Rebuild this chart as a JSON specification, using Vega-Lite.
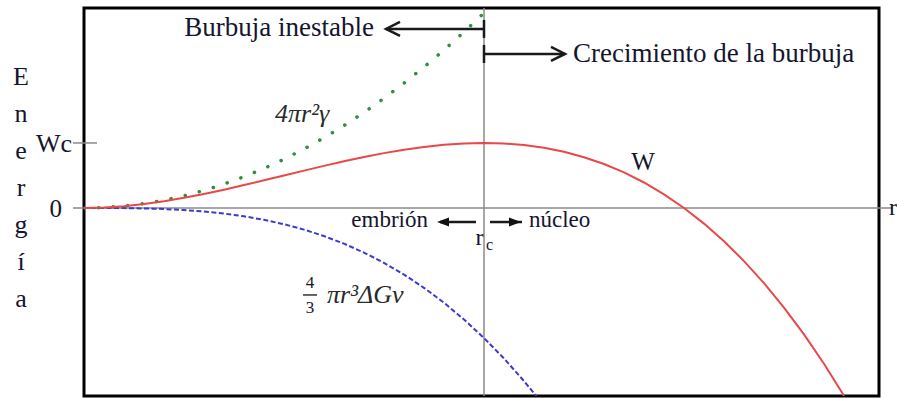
{
  "$schema": "https://vega.github.io/schema/vega-lite/v6.json",
  "width": 795,
  "height": 388,
  "autosize": "none",
  "padding": {"left": 84, "top": 8, "right": 18, "bottom": 3},
  "background": "white",
  "view": {"stroke": "black", "strokeWidth": 3},
  "datasets": {
    "curvas": [
      {"curva": "superficie", "r": 0, "E": 0},
      {"curva": "superficie", "r": 0.05, "E": 0.00375},
      {"curva": "superficie", "r": 0.1, "E": 0.015},
      {"curva": "superficie", "r": 0.15, "E": 0.03375},
      {"curva": "superficie", "r": 0.2, "E": 0.06},
      {"curva": "superficie", "r": 0.25, "E": 0.09375},
      {"curva": "superficie", "r": 0.3, "E": 0.135},
      {"curva": "superficie", "r": 0.35, "E": 0.18375},
      {"curva": "superficie", "r": 0.4, "E": 0.24},
      {"curva": "superficie", "r": 0.45, "E": 0.30375},
      {"curva": "superficie", "r": 0.5, "E": 0.375},
      {"curva": "superficie", "r": 0.55, "E": 0.45375},
      {"curva": "superficie", "r": 0.6, "E": 0.54},
      {"curva": "superficie", "r": 0.65, "E": 0.63375},
      {"curva": "superficie", "r": 0.7, "E": 0.735},
      {"curva": "superficie", "r": 0.75, "E": 0.84375},
      {"curva": "superficie", "r": 0.8, "E": 0.96},
      {"curva": "superficie", "r": 0.85, "E": 1.08375},
      {"curva": "superficie", "r": 0.9, "E": 1.215},
      {"curva": "superficie", "r": 0.95, "E": 1.35375},
      {"curva": "superficie", "r": 1.0, "E": 1.5},
      {"curva": "superficie", "r": 1.013, "E": 1.539},
      {"curva": "volumen", "r": 0, "E": 0},
      {"curva": "volumen", "r": 0.05, "E": -0.000125},
      {"curva": "volumen", "r": 0.1, "E": -0.001},
      {"curva": "volumen", "r": 0.15, "E": -0.003375},
      {"curva": "volumen", "r": 0.2, "E": -0.008},
      {"curva": "volumen", "r": 0.25, "E": -0.015625},
      {"curva": "volumen", "r": 0.3, "E": -0.027},
      {"curva": "volumen", "r": 0.35, "E": -0.042875},
      {"curva": "volumen", "r": 0.4, "E": -0.064},
      {"curva": "volumen", "r": 0.45, "E": -0.091125},
      {"curva": "volumen", "r": 0.5, "E": -0.125},
      {"curva": "volumen", "r": 0.55, "E": -0.166375},
      {"curva": "volumen", "r": 0.6, "E": -0.216},
      {"curva": "volumen", "r": 0.65, "E": -0.274625},
      {"curva": "volumen", "r": 0.7, "E": -0.343},
      {"curva": "volumen", "r": 0.75, "E": -0.421875},
      {"curva": "volumen", "r": 0.8, "E": -0.512},
      {"curva": "volumen", "r": 0.85, "E": -0.614125},
      {"curva": "volumen", "r": 0.9, "E": -0.729},
      {"curva": "volumen", "r": 0.95, "E": -0.857375},
      {"curva": "volumen", "r": 1.0, "E": -1.0},
      {"curva": "volumen", "r": 1.05, "E": -1.157625},
      {"curva": "volumen", "r": 1.1, "E": -1.331},
      {"curva": "volumen", "r": 1.131, "E": -1.447},
      {"curva": "W", "r": 0, "E": 0},
      {"curva": "W", "r": 0.05, "E": 0.003625},
      {"curva": "W", "r": 0.1, "E": 0.014},
      {"curva": "W", "r": 0.15, "E": 0.030375},
      {"curva": "W", "r": 0.2, "E": 0.052},
      {"curva": "W", "r": 0.25, "E": 0.078125},
      {"curva": "W", "r": 0.3, "E": 0.108},
      {"curva": "W", "r": 0.35, "E": 0.140875},
      {"curva": "W", "r": 0.4, "E": 0.176},
      {"curva": "W", "r": 0.45, "E": 0.212625},
      {"curva": "W", "r": 0.5, "E": 0.25},
      {"curva": "W", "r": 0.55, "E": 0.287375},
      {"curva": "W", "r": 0.6, "E": 0.324},
      {"curva": "W", "r": 0.65, "E": 0.359125},
      {"curva": "W", "r": 0.7, "E": 0.392},
      {"curva": "W", "r": 0.75, "E": 0.421875},
      {"curva": "W", "r": 0.8, "E": 0.448},
      {"curva": "W", "r": 0.85, "E": 0.469625},
      {"curva": "W", "r": 0.9, "E": 0.486},
      {"curva": "W", "r": 0.95, "E": 0.496375},
      {"curva": "W", "r": 1.0, "E": 0.5},
      {"curva": "W", "r": 1.05, "E": 0.496125},
      {"curva": "W", "r": 1.1, "E": 0.484},
      {"curva": "W", "r": 1.15, "E": 0.462875},
      {"curva": "W", "r": 1.2, "E": 0.432},
      {"curva": "W", "r": 1.25, "E": 0.390625},
      {"curva": "W", "r": 1.3, "E": 0.338},
      {"curva": "W", "r": 1.35, "E": 0.273375},
      {"curva": "W", "r": 1.4, "E": 0.196},
      {"curva": "W", "r": 1.45, "E": 0.105125},
      {"curva": "W", "r": 1.5, "E": 0},
      {"curva": "W", "r": 1.55, "E": -0.120125},
      {"curva": "W", "r": 1.6, "E": -0.256},
      {"curva": "W", "r": 1.65, "E": -0.408375},
      {"curva": "W", "r": 1.7, "E": -0.578},
      {"curva": "W", "r": 1.75, "E": -0.765625},
      {"curva": "W", "r": 1.8, "E": -0.972},
      {"curva": "W", "r": 1.85, "E": -1.197875},
      {"curva": "W", "r": 1.9, "E": -1.444}
    ],
    "guias": [
      {"r": -0.0275, "r2": 2.0225, "E": 0, "E2": 0},
      {"r": -0.0275, "r2": 0.0325, "E": 0.5, "E2": 0.5},
      {"r": 1, "r2": 1, "E": -1.446, "E2": 1.538}
    ],
    "flechas": [
      {"r": 0.755, "r2": 1.0, "E": 1.377, "E2": 1.377},
      {"r": 1.0, "r2": 1.0, "E": 1.446, "E2": 1.308},
      {"r": 1.0, "r2": 1.2025, "E": 1.185, "E2": 1.185},
      {"r": 1.0, "r2": 1.0, "E": 1.254, "E2": 1.115},
      {"r": 0.89, "r2": 0.98, "E": -0.108, "E2": -0.108},
      {"r": 1.015, "r2": 1.095, "E": -0.108, "E2": -0.108}
    ],
    "fraccion": [
      {"r": 0.5475, "r2": 0.5825, "E": -0.669, "E2": -0.669}
    ],
    "puntas": [
      {"estilo": "abierta", "r": 0.7725, "E": 1.377, "forma": "M1,-1L-1,0L1,1"},
      {"estilo": "abierta", "r": 1.185, "E": 1.185, "forma": "M-1,-1L1,0L-1,1"},
      {"estilo": "llena", "r": 0.8975, "E": -0.108, "forma": "M-1,0L1,-0.75L1,0.75Z"},
      {"estilo": "llena", "r": 1.0775, "E": -0.108, "forma": "M1,0L-1,-0.75L-1,0.75Z"}
    ],
    "textos": [
      {"alin": "right", "r": 0.725, "E": 1.323, "t": "Burbuja inestable", "tam": 27},
      {"alin": "left", "r": 1.2225, "E": 1.123, "t": "Crecimiento de la burbuja", "tam": 27},
      {"alin": "right", "r": -0.03, "E": 0.4308, "t": "Wc", "tam": 26},
      {"alin": "right", "r": -0.055, "E": -0.0692, "t": "0", "tam": 25},
      {"alin": "right", "r": 0.86, "E": -0.146, "t": "embrión", "tam": 23},
      {"alin": "left", "r": 1.1125, "E": -0.146, "t": "núcleo", "tam": 23},
      {"alin": "left", "r": 2.0125, "E": -0.0538, "t": "r", "tam": 24},
      {"alin": "center", "r": 1.3975, "E": 0.2923, "t": "W", "tam": 25},
      {"alin": "center", "r": 0.989, "E": -0.2846, "t": "r", "tam": 24},
      {"alin": "center", "r": 1.014, "E": -0.323, "t": "c", "tam": 16},
      {"alin": "center", "r": 0.565, "E": -0.615, "t": "4", "tam": 17},
      {"alin": "center", "r": 0.565, "E": -0.8077, "t": "3", "tam": 17},
      {"alin": "center", "r": -0.1575, "E": 0.946, "t": "E", "tam": 26},
      {"alin": "center", "r": -0.1575, "E": 0.6615, "t": "n", "tam": 26},
      {"alin": "center", "r": -0.1575, "E": 0.377, "t": "e", "tam": 26},
      {"alin": "center", "r": -0.1575, "E": 0.0923, "t": "r", "tam": 26},
      {"alin": "center", "r": -0.1575, "E": -0.1923, "t": "g", "tam": 26},
      {"alin": "center", "r": -0.1575, "E": -0.477, "t": "í", "tam": 26},
      {"alin": "center", "r": -0.1575, "E": -0.7615, "t": "a", "tam": 26}
    ],
    "formulas": [
      {"r": 0.4775, "E": 0.6615, "t": "4πr²γ"},
      {"r": 0.6075, "E": -0.7308, "t": "πr³ΔGv"}
    ]
  },
  "encoding": {
    "x": {"field": "r", "type": "quantitative", "axis": null,
          "scale": {"domain": [0, 1.9875], "nice": false, "zero": false}},
    "y": {"field": "E", "type": "quantitative", "axis": null,
          "scale": {"domain": [-1.446, 1.538], "nice": false, "zero": false}}
  },
  "layer": [
    {
      "data": {"name": "guias"},
      "mark": {"type": "rule", "color": "#8a8a8a", "strokeWidth": 1.5},
      "encoding": {"x2": {"field": "r2"}, "y2": {"field": "E2"}}
    },
    {
      "data": {"name": "curvas"},
      "transform": [{"filter": "datum.curva === 'superficie'"}],
      "mark": {"type": "line", "clip": true, "color": "#2f8f3a", "strokeWidth": 3.5,
               "strokeCap": "round", "strokeDash": [0.1, 14.5]}
    },
    {
      "data": {"name": "curvas"},
      "transform": [{"filter": "datum.curva === 'volumen'"}],
      "mark": {"type": "line", "clip": true, "color": "#3b3bd0", "strokeWidth": 2,
               "strokeDash": [5, 2.5]}
    },
    {
      "data": {"name": "curvas"},
      "transform": [{"filter": "datum.curva === 'W'"}],
      "mark": {"type": "line", "clip": true, "color": "#e84848", "strokeWidth": 2}
    },
    {
      "data": {"name": "flechas"},
      "mark": {"type": "rule", "color": "#1a1a1a", "strokeWidth": 2.5},
      "encoding": {"x2": {"field": "r2"}, "y2": {"field": "E2"}}
    },
    {
      "data": {"name": "fraccion"},
      "mark": {"type": "rule", "color": "#333333", "strokeWidth": 1.5},
      "encoding": {"x2": {"field": "r2"}, "y2": {"field": "E2"}}
    },
    {
      "data": {"name": "puntas"},
      "transform": [{"filter": "datum.estilo === 'abierta'"}],
      "mark": {"type": "point", "filled": false, "stroke": "#1a1a1a", "strokeWidth": 2.5,
               "size": 196, "opacity": 1},
      "encoding": {"shape": {"field": "forma", "type": "nominal", "scale": null, "legend": null}}
    },
    {
      "data": {"name": "puntas"},
      "transform": [{"filter": "datum.estilo === 'llena'"}],
      "mark": {"type": "point", "filled": true, "color": "#111111", "size": 144, "opacity": 1},
      "encoding": {"shape": {"field": "forma", "type": "nominal", "scale": null, "legend": null}}
    },
    {
      "data": {"name": "textos"},
      "transform": [{"filter": "datum.alin === 'left'"}],
      "mark": {"type": "text", "align": "left", "baseline": "alphabetic",
               "font": "Times New Roman, Liberation Serif, DejaVu Serif, serif", "color": "#15152e"},
      "encoding": {"text": {"field": "t"}, "size": {"field": "tam", "type": "quantitative", "scale": null}}
    },
    {
      "data": {"name": "textos"},
      "transform": [{"filter": "datum.alin === 'right'"}],
      "mark": {"type": "text", "align": "right", "baseline": "alphabetic",
               "font": "Times New Roman, Liberation Serif, DejaVu Serif, serif", "color": "#15152e"},
      "encoding": {"text": {"field": "t"}, "size": {"field": "tam", "type": "quantitative", "scale": null}}
    },
    {
      "data": {"name": "textos"},
      "transform": [{"filter": "datum.alin === 'center'"}],
      "mark": {"type": "text", "align": "center", "baseline": "alphabetic",
               "font": "Times New Roman, Liberation Serif, DejaVu Serif, serif", "color": "#15152e"},
      "encoding": {"text": {"field": "t"}, "size": {"field": "tam", "type": "quantitative", "scale": null}}
    },
    {
      "data": {"name": "formulas"},
      "mark": {"type": "text", "align": "left", "baseline": "alphabetic", "fontStyle": "italic",
               "font": "Times New Roman, Liberation Serif, DejaVu Serif, serif", "fontSize": 26, "color": "#2a2a2a"},
      "encoding": {"text": {"field": "t"}}
    }
  ]
}
